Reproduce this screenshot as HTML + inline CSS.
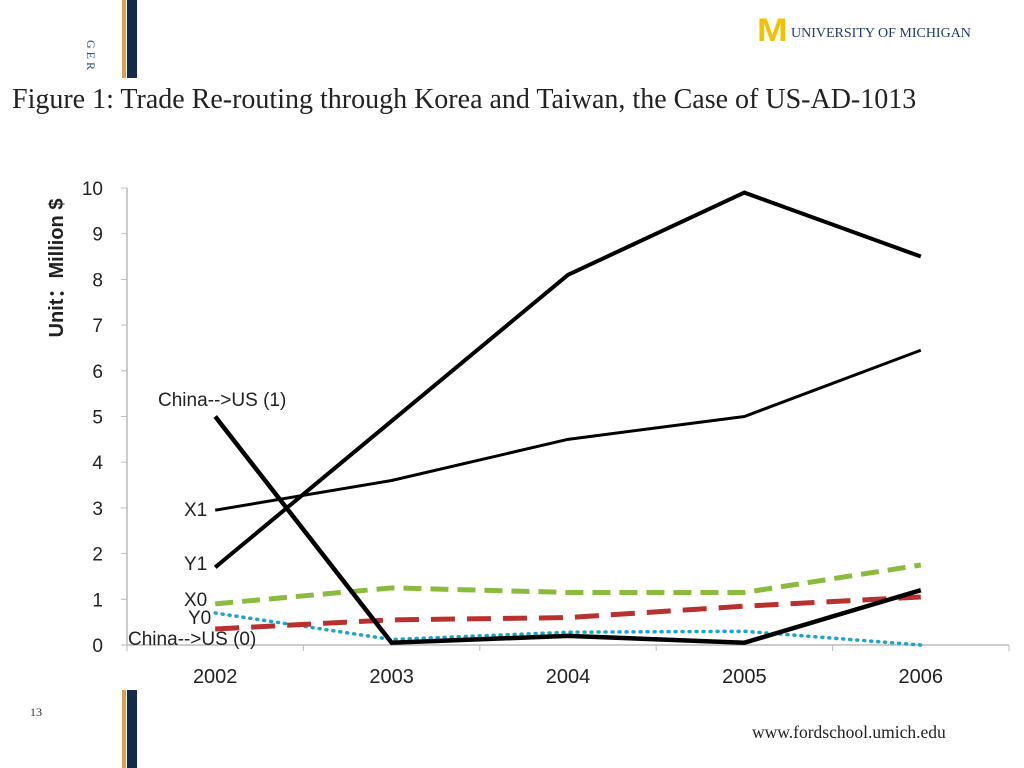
<!DOCTYPE html>
<html><head><meta charset="utf-8"><style>
body{margin:0;width:1024px;height:768px;background:#fff;position:relative;overflow:hidden;font-family:"Liberation Sans",sans-serif}
.bar{position:absolute;left:122px;width:15px;background:linear-gradient(to right,#d9a14a 0 4px,#fff 4px 5px,#132a4a 5px)}
</style></head><body>
<div class="bar" style="top:0;height:78px"></div>
<div class="bar" style="top:690px;height:78px"></div>
<div style="position:absolute;left:83px;top:40px;writing-mode:vertical-rl;font-family:'Liberation Serif',serif;font-size:12px;color:#2a4a7a;letter-spacing:3px">GER</div>
<div style="position:absolute;left:757px;top:16px;display:flex;align-items:flex-end">
<span style="font-family:'Liberation Sans',sans-serif;font-weight:bold;font-size:32px;color:#f2c200;line-height:28px;transform:scaleX(1.15);transform-origin:left;width:34px">M</span>
<span style="font-family:'Liberation Serif',serif;font-size:14px;color:#1f3a6e;margin-bottom:2px">UNIVERSITY OF MICHIGAN</span></div>
<div style="position:absolute;left:12px;top:84px;font-family:'Liberation Serif',serif;font-size:28px;color:#222;white-space:nowrap">Figure 1: Trade Re-routing through Korea and Taiwan, the Case of US-AD-1013</div>
<div style="position:absolute;left:30px;top:705px;font-family:'Liberation Serif',serif;font-size:12px;color:#333">13</div>
<div style="position:absolute;left:752px;top:722px;font-family:'Liberation Serif',serif;font-size:17.5px;color:#222">www.fordschool.umich.edu</div>
<svg id="chart" width="1024" height="768" style="position:absolute;left:0;top:0"></svg>
<script>
const categories=["2002","2003","2004","2005","2006"];
const yTicks=[0,1,2,3,4,5,6,7,8,9,10];
const y1=[1.7,4.9,8.1,9.9,8.5];
const x1=[2.95,3.6,4.5,5.0,6.45];
const chinaUs1=[5.0,0.05,0.2,0.05,1.2];
const x0=[0.9,1.25,1.15,1.15,1.75];
const y0=[0.35,0.55,0.6,0.85,1.05];
const chinaUs0=[0.7,0.12,0.28,0.3,0.0];
const NS="http://www.w3.org/2000/svg",svg=document.getElementById('chart');
const L=127,R=1009,T=188,B=645,step=(R-L)/categories.length;
const xs=i=>L+step*(i+0.5), ys=v=>B-(B-T)*v/10;
function mk(t,a){const e=document.createElementNS(NS,t);for(const k in a)e.setAttribute(k,a[k]);svg.appendChild(e);return e;}
let e=mk('line',{x1:L,y1:T,x2:L,y2:B,stroke:'#bbb','stroke-width':1.5});

e=mk('line',{x1:L,y1:B,x2:R,y2:B,stroke:'#bbb','stroke-width':1.5});

yTicks.forEach(v=>{mk('line',{x1:L-6,y1:ys(v),x2:L,y2:ys(v),stroke:'#bbb'});
e=mk('text',{x:L-24,y:ys(v)+7,'text-anchor':'end','font-size':19,fill:'#222'});e.textContent=v;
});
for(let i=0;i<=categories.length;i++)mk('line',{x1:L+step*i,y1:B,x2:L+step*i,y2:B+6,stroke:'#bbb'});
categories.forEach((c,i)=>{e=mk('text',{x:xs(i),y:B+38,'text-anchor':'middle','font-size':20,fill:'#222'});e.textContent=c;
});
e=mk('text',{x:0,y:0,transform:'translate(63,268) rotate(-90)','text-anchor':'middle','font-size':20,'font-weight':'bold',fill:'#222'});
e.textContent='Unit：Million $';
function series(d,name,style){const p=mk('polyline',Object.assign({points:d.map((v,i)=>xs(i)+','+ys(v)).join(' '),fill:'none','stroke-linejoin':'miter'},style));
}
series(chinaUs0,'series-china-us-0',{stroke:'#1fa3c9','stroke-width':3.5,'stroke-dasharray':'1 6','stroke-linecap':'round'});
series(y0,'series-y0',{stroke:'#b8312f','stroke-width':5,'stroke-dasharray':'24 12'});
series(x0,'series-x0',{stroke:'#8bbb3c','stroke-width':5,'stroke-dasharray':'18 9'});
series(x1,'series-x1',{stroke:'#000','stroke-width':3});
series(y1,'series-y1',{stroke:'#000','stroke-width':4});
series(chinaUs1,'series-china-us-1',{stroke:'#000','stroke-width':4.5});
const labels=[["China-->US (1)",158,406,'label-china-us-1'],["X1",184,516,'label-x1'],["Y1",184,570,'label-y1'],["X0",184,606,'label-x0'],["Y0",188,624,'label-y0'],["China-->US (0)",128,645,'label-china-us-0']];
labels.forEach(l=>{e=mk('text',{x:l[1],y:l[2],'font-size':19,fill:'#222'});e.textContent=l[0];
});
</script>
</body></html>
